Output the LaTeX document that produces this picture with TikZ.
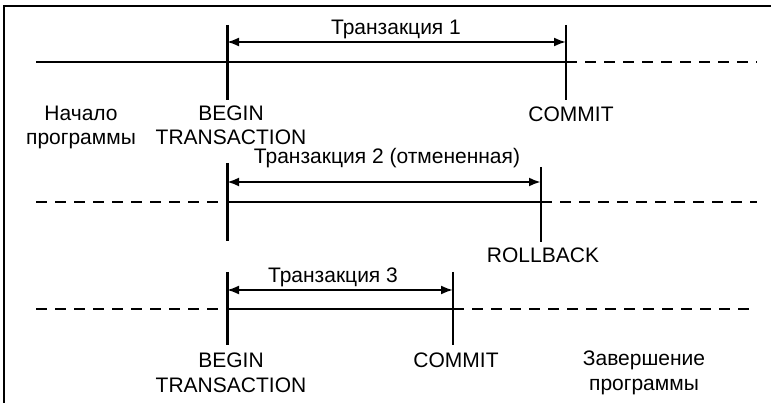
\documentclass[tikz,border=0pt]{standalone}
\usepackage{fontspec}
\setmainfont{Liberation Sans}
\usetikzlibrary{positioning}
\usetikzlibrary{arrows.meta}

\tikzset{
  frame/.style={line width=2.6pt},
  mainline/.style={line width=2.8pt},
  markthick/.style={line width=3pt},
  markthin/.style={line width=2pt},
  dashline/.style={line width=2.6pt, dash pattern=on 11pt off 8pt},
  span/.style={{Latex[length=12pt,width=9pt]}-{Latex[length=12pt,width=9pt]}, line width=2pt},
  lbl/.style={font=\fontsize{21}{24.5}\selectfont, align=center, inner sep=0pt, anchor=base}
}

\begin{document}
\begin{tikzpicture}[x=1pt, y=-1pt]
\useasboundingbox (0,0) rectangle (771,403);

% frame
\coordinate (fbl) at (4,403);
\coordinate (ftl) at (4,6);
\coordinate (ftr) at (771,6);
\draw [frame] (fbl)--(ftl)--(ftr);

% transaction 1
\coordinate (l1a) at (36,62);
\coordinate (l1m) at (566,62);
\coordinate (l1b) at (757,62);
\coordinate (b1top) at (227,25);
\coordinate (b1bot) at (227,100);
\coordinate (c1top) at (566,25);
\coordinate (c1bot) at (566,100);
\coordinate (t1a) at (227,42);
\coordinate (t1b) at (566,42);
\draw [mainline] (l1a)--(l1m);
\draw [dashline] (l1m)--(l1b);
\draw [markthick] (b1top)--(b1bot);
\draw [markthin] (c1top)--(c1bot);
\draw [span] (t1a)--(t1b);
\node [lbl] (t1label) at (396,35) {Транзакция 1};
\node [lbl] (start) at (81,145) {Начало\\программы};
\node [lbl] (begin1) at (231,145) {BEGIN\\TRANSACTION};
\node [lbl] (commit1) at (571,122) {COMMIT};

% transaction 2
\coordinate (l2a) at (36,202);
\coordinate (l2m) at (227,202);
\coordinate (l2n) at (541,202);
\coordinate (l2b) at (757,202);
\coordinate (b2top) at (227,163);
\coordinate (b2bot) at (227,241);
\coordinate (r2top) at (541,167);
\coordinate (r2bot) at (541,242);
\coordinate (t2a) at (227,182);
\coordinate (t2b) at (541,182);
\draw [dashline] (l2a)--(l2m);
\draw [mainline] (l2m)--(l2n);
\draw [dashline] (l2n)--(l2b);
\draw [markthick] (b2top)--(b2bot);
\draw [markthin] (r2top)--(r2bot);
\draw [span, line width=2.8pt] (t2a)--(t2b);
\node [lbl] (t2label) at (387,164) {Транзакция 2 (отмененная)};
\node [lbl] (rollback) at (543,263) {ROLLBACK};

% transaction 3
\coordinate (l3a) at (36,309);
\coordinate (l3m) at (227,309);
\coordinate (l3n) at (453,309);
\coordinate (l3b) at (757,309);
\coordinate (b3top) at (227,272);
\coordinate (b3bot) at (227,345);
\coordinate (c3top) at (453,272);
\coordinate (c3bot) at (453,345);
\coordinate (t3a) at (227,290);
\coordinate (t3b) at (453,290);
\draw [dashline] (l3a)--(l3m);
\draw [mainline] (l3m)--(l3n);
\draw [dashline] (l3n)--(l3b);
\draw [markthick] (b3top)--(b3bot);
\draw [markthin] (c3top)--(c3bot);
\draw [span] (t3a)--(t3b);
\node [lbl] (t3label) at (333,283) {Транзакция 3};
\node [lbl] (begin3) at (231,392) {BEGIN\\TRANSACTION};
\node [lbl] (commit3) at (456,367) {COMMIT};
\node [lbl] (finish) at (644,390) {Завершение\\программы};
\end{tikzpicture}
\end{document}
